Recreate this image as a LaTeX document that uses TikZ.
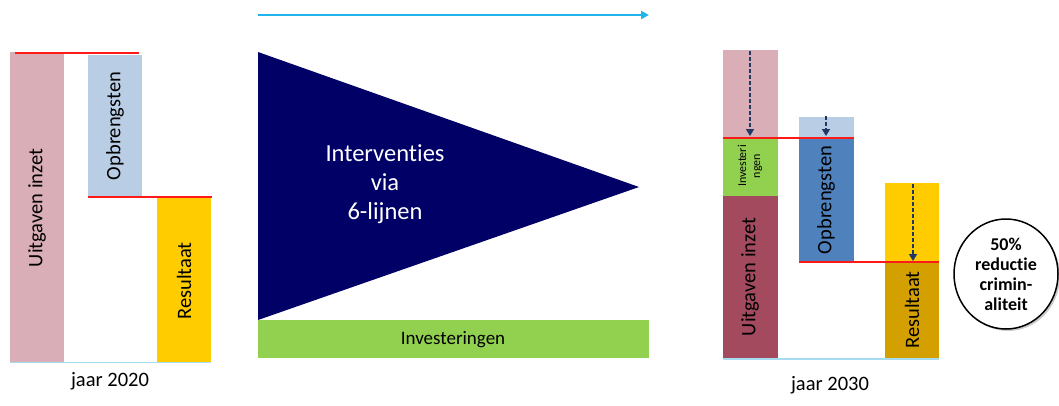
\documentclass[tikz,border=0pt]{standalone}
\usepackage{fontspec}
\setmainfont{Carlito}[Ligatures=NoCommon]
\usetikzlibrary{arrows.meta,shadows,shapes.geometric}
\definecolor{pinkbar}{HTML}{D9AEB7}
\definecolor{lblue}{HTML}{B9CDE5}
\definecolor{ylw}{HTML}{FFCC00}
\definecolor{navy}{HTML}{000066}
\definecolor{grn}{HTML}{92D050}
\definecolor{darkred}{HTML}{A34A5F}
\definecolor{mblue}{HTML}{4F81BD}
\definecolor{dylw}{HTML}{D4A000}
\definecolor{cyanln}{HTML}{1FB5EA}
\definecolor{basecol}{HTML}{A6DCF0}
\definecolor{redln}{HTML}{FF1A1A}
\definecolor{dashnavy}{HTML}{1F3864}
\begin{document}
\begin{tikzpicture}[x=1pt,y=-1pt,
  bartext/.style={rotate=90,font=\fontsize{20.5}{22}\selectfont,text=black},
  lvl/.style={draw=redln,line width=1.5pt},
  base/.style={draw=basecol,line width=1.6pt},
  drop/.style={draw=dashnavy,dash pattern=on 4pt off 2pt,line width=1.6pt,-{Triangle[length=7pt,width=8pt]}},
  yeartext/.style={font=\fontsize{20.5}{22}\selectfont}]
\useasboundingbox (0,0) rectangle (1059,405);
\fill[white] (0,0) rectangle (1059,405);
% ---------- jaar 2020 ----------
\fill[pinkbar] (10,52) rectangle (64,362);
\fill[lblue] (88,55) rectangle (142,197);
\fill[ylw] (157,197) rectangle (211,362);
\draw[lvl] (15,53) -- (139,53);
\draw[lvl] (88,197) -- (212,197);
\draw[base] (10,362.5) -- (211,362.5);
\node[bartext] (u1) at (37,208) {Uitgaven inzet};
\node[bartext] (o1) at (115,126) {Opbrengsten};
\node[bartext] (r1) at (184,281) {Resultaat};
\node[yeartext] (j1) at (110,381) {jaar 2020};
% ---------- middle ----------
\coordinate (ta) at (258,15);
\coordinate (tb) at (649,15);
\draw[draw=cyanln,line width=2pt,-{Triangle[length=8pt,width=8pt]}] (ta) -- (tb);
\fill[navy] (258,52) -- (639,187) -- (258,320) -- cycle;
\node[text=white,align=center,font=\fontsize{24.5}{29}\selectfont] (iv) at (385,184) {Interventies\\via\\6-lijnen};
\fill[grn] (258,320) rectangle (649,358);
\node[font=\fontsize{19}{21}\selectfont] (inv) at (453,340) {Investeringen};
% ---------- jaar 2030 ----------
\fill[pinkbar] (723,50) rectangle (778,138);
\fill[grn] (723,138) rectangle (778,196);
\fill[darkred] (723,196) rectangle (778,359);
\fill[lblue] (799,117) rectangle (854,138);
\fill[mblue] (799,138) rectangle (854,262);
\fill[ylw] (885,183) rectangle (939,262);
\fill[dylw] (885,262) rectangle (939,358);
\draw[lvl] (723,138) -- (854,138);
\draw[lvl] (799,262) -- (939,262);
\draw[base] (723,359) -- (939,359);
\coordinate (a1s) at (750,51);  \coordinate (a1e) at (750,136);
\coordinate (a2s) at (826,116); \coordinate (a2e) at (826,136);
\coordinate (a3s) at (913,184); \coordinate (a3e) at (913,261);
\draw[drop] (a1s) -- (a1e);
\draw[drop] (a2s) -- (a2e);
\draw[drop] (a3s) -- (a3e);
\node[rotate=90,align=center,font=\fontsize{12}{14}\selectfont] (i2) at (750,166) {Investeri\\ngen};
\node[bartext] (u2) at (750,277) {Uitgaven inzet};
\node[bartext] (o2) at (826,200) {Opbrengsten};
\node[bartext] (r2) at (912,310) {Resultaat};
\node[yeartext] (j2) at (830,385) {jaar 2030};
\node[ellipse,draw=black,line width=1.5pt,fill=white,minimum width=104pt,minimum height=110pt,inner sep=0pt,
      drop shadow={shadow xshift=2pt,shadow yshift=-2pt,opacity=0.4},
      align=center,font=\bfseries\fontsize{18}{20}\selectfont] (c) at (1006,274)
      {50\%\\reductie\\crimin-\\aliteit};
\end{tikzpicture}
\end{document}
